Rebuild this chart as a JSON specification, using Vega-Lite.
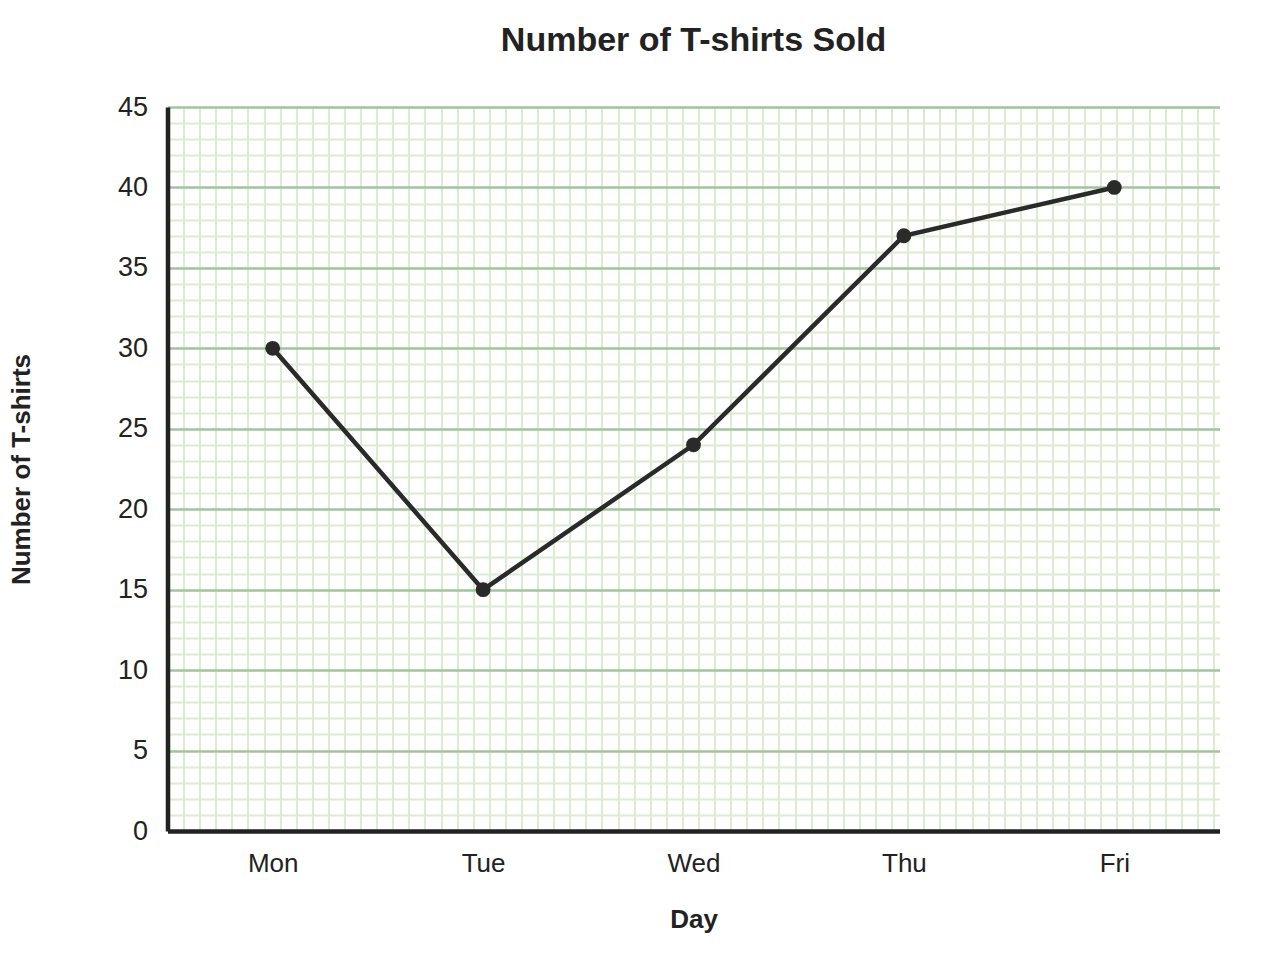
{
  "$schema": "https://vega.github.io/schema/vega-lite/v6.json",
  "width": 1052,
  "height": 724,
  "autosize": {"type": "none"},
  "padding": {"left": 167.5, "top": 107, "right": 60, "bottom": 149},
  "background": "white",
  "config": {"font": "Liberation Sans", "view": {"stroke": null}},
  "title": {
    "text": "Number of T-shirts Sold",
    "fontSize": 34,
    "fontWeight": "bold",
    "color": "#222222",
    "anchor": "middle",
    "baseline": "alphabetic",
    "offset": 8
  },
  "data": {
    "values": [
      {"Day": "Mon", "Sold": 30},
      {"Day": "Tue", "Sold": 15},
      {"Day": "Wed", "Sold": 24},
      {"Day": "Thu", "Sold": 37},
      {"Day": "Fri", "Sold": 40}
    ]
  },
  "layer": [
    {
      "mark": {"type": "rule", "opacity": 0},
      "encoding": {
        "x": {
          "datum": 0,
          "type": "quantitative",
          "scale": {"domain": [0, 65.38], "nice": false, "zero": false},
          "axis": {
            "orient": "bottom",
            "values": [1,2,3,4,5,6,7,8,9,10,11,12,13,14,15,16,17,18,19,20,21,22,23,24,25,26,27,28,29,30,31,32,33,34,35,36,37,38,39,40,41,42,43,44,45,46,47,48,49,50,51,52,53,54,55,56,57,58,59,60,61,62,63,64,65],
            "grid": true,
            "gridColor": "#dcebd1",
            "gridWidth": 2,
            "labels": false,
            "ticks": false,
            "domain": false,
            "title": null
          }
        }
      }
    },
    {
      "mark": {
        "type": "line",
        "color": "#2a2a2a",
        "strokeWidth": 4.5,
        "point": {"filled": true, "size": 220, "color": "#2a2a2a"}
      },
      "encoding": {
        "x": {
          "field": "Day",
          "type": "nominal",
          "sort": null,
          "axis": {
            "orient": "bottom",
            "title": "Day",
            "labelAngle": 0,
            "grid": false,
            "ticks": false,
            "domainColor": "#222222",
            "domainWidth": 4.5,
            "labelFontSize": 26,
            "labelColor": "#222222",
            "labelPadding": 19,
            "titleFontSize": 26,
            "titleFontWeight": "bold",
            "titleColor": "#222222",
            "titlePadding": 30
          }
        },
        "y": {
          "field": "Sold",
          "type": "quantitative",
          "scale": {"domain": [0, 45], "nice": false},
          "axis": {
            "title": "Number of T-shirts",
            "values": [0,1,2,3,4,5,6,7,8,9,10,11,12,13,14,15,16,17,18,19,20,21,22,23,24,25,26,27,28,29,30,31,32,33,34,35,36,37,38,39,40,41,42,43,44,45],
            "labelExpr": "datum.value % 5 === 0 ? datum.label : ''",
            "grid": true,
            "gridColor": {"condition": {"test": "datum.value % 5 === 0", "value": "#a2c49d"}, "value": "#dcebd1"},
            "gridWidth": {"condition": {"test": "datum.value % 5 === 0", "value": 2.5}, "value": 2},
            "gridOpacity": {"condition": {"test": "datum.value === 0", "value": 0}, "value": 1},
            "ticks": false,
            "domainColor": "#222222",
            "domainWidth": 4.5,
            "labelFontSize": 27,
            "labelColor": "#222222",
            "labelPadding": 20,
            "titleFontSize": 26,
            "titleFontWeight": "bold",
            "titleColor": "#222222",
            "titlePadding": 83
          }
        }
      }
    }
  ],
  "resolve": {"scale": {"x": "independent"}, "axis": {"x": "independent"}}
}
